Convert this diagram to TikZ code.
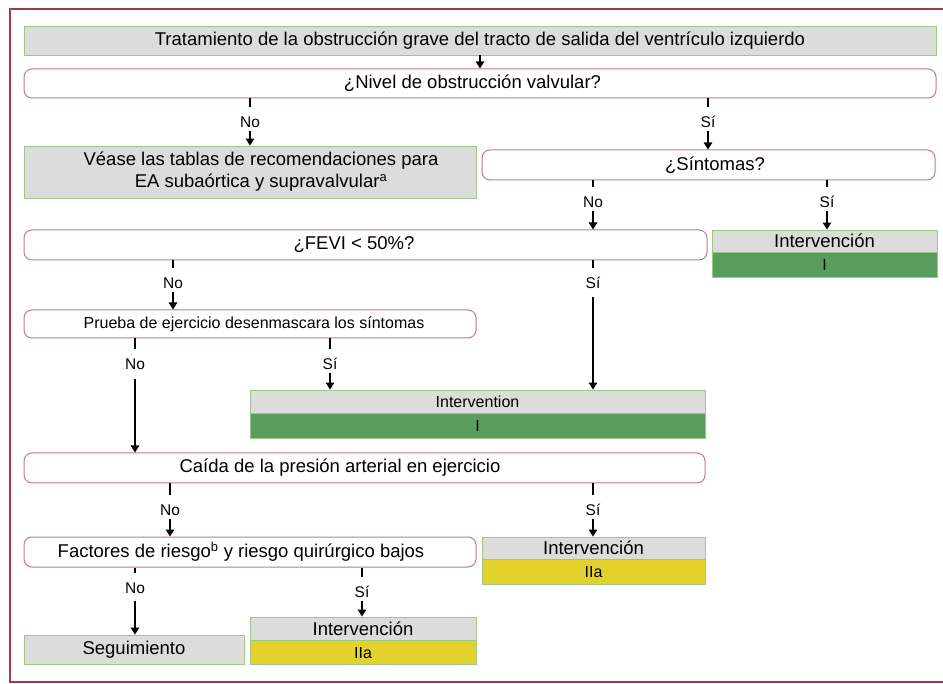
\documentclass[tikz,border=0pt]{standalone}
\usepackage{fontspec}
\setmainfont{Liberation Sans}
\usetikzlibrary{arrows.meta}
\definecolor{boxgray}{HTML}{DCDCDC}
\definecolor{boxgreen}{HTML}{9CC68A}
\definecolor{roundred}{HTML}{C27A84}
\definecolor{framered}{HTML}{9C3B4B}
\definecolor{fillgreen}{HTML}{5A9E5E}
\definecolor{fillyellow}{HTML}{E3D22B}
\tikzset{
  graybox/.style={draw=boxgreen, fill=boxgray, line width=0.9pt, inner sep=0pt, align=center, font=\fontsize{18.5}{22}\selectfont},
  qbox/.style={draw=roundred, fill=white, line width=1pt, rounded corners=8pt, inner sep=0pt, align=center, font=\fontsize{18.5}{22}\selectfont},
  gfill/.style={draw=boxgreen, fill=fillgreen, line width=0.9pt, inner sep=0pt, font=\fontsize{16}{18}\selectfont},
  yfill/.style={draw=boxgreen, fill=fillyellow, line width=0.9pt, inner sep=0pt, font=\fontsize{16}{18}\selectfont},
  lbl/.style={inner sep=3pt, font=\fontsize{15.5}{17}\selectfont},
  tick/.style={line width=1.2pt, shorten >=6pt},
  arr/.style={line width=1.2pt, -{Triangle[length=7pt,width=8.5pt]}}
}
\begin{document}
\begin{tikzpicture}[x=1pt,y=-1pt]
\useasboundingbox (0,0) rectangle (943,684);
% frame
\draw[framered, line width=1.2pt] (10,9) rectangle (970,682);

% boxes
\node[graybox, minimum width=912pt, minimum height=29pt] (title) at (480,40.5) {Tratamiento de la obstrucción grave del tracto de salida del ventrículo izquierdo};
\node[qbox, minimum width=912pt, minimum height=29pt] (nivel) at (480,83.5) {\hspace*{-15pt}¿Nivel de obstrucción valvular?};
\node[graybox, minimum width=452pt, minimum height=52pt] (vease) at (250,172) {\hspace*{22pt}Véase las tablas de recomendaciones para\\\hspace*{22pt}EA subaórtica y supravalvular\textsuperscript{a}};
\node[qbox, minimum width=453pt, minimum height=30pt] (sint) at (708.5,165) {\hspace*{13pt}¿Síntomas?};
\node[qbox, minimum width=683pt, minimum height=30pt] (fevi) at (365.5,245) {\hspace*{-23pt}¿FEVI < 50\%?};
\node[graybox, minimum width=225pt, minimum height=22pt] (intA) at (824.5,241) {Intervención};
\node[gfill, minimum width=225pt, minimum height=25pt, anchor=north] (intAc) at (intA.south) {I};
\node[qbox, minimum width=452pt, minimum height=28pt, font=\fontsize{16}{18}\selectfont] (prueba) at (250,324) {\hspace*{8pt}Prueba de ejercicio desenmascara los síntomas};
\node[graybox, minimum width=455pt, minimum height=23pt, font=\fontsize{16}{18}\selectfont] (intB) at (477.5,401.5) {Intervention};
\node[gfill, minimum width=455pt, minimum height=25pt, anchor=north] (intBc) at (intB.south) {I};
\node[qbox, minimum width=681pt, minimum height=30pt] (caida) at (364.5,468) {\hspace*{-49pt}Caída de la presión arterial en ejercicio};
\node[qbox, minimum width=452pt, minimum height=30pt] (fact) at (250,552) {\hspace*{-18pt}Factores de riesgo\textsuperscript{b} y riesgo quirúrgico bajos};
\node[graybox, minimum width=223pt, minimum height=22pt] (intC) at (593.5,548) {Intervención};
\node[yfill, minimum width=223pt, minimum height=25pt, anchor=north] (intCc) at (intC.south) {IIa};
\node[graybox, minimum width=220pt, minimum height=29pt] (seg) at (134,649.5) {Seguimiento};
\node[graybox, minimum width=226pt, minimum height=23pt] (intD) at (363,628.5) {Intervención};
\node[yfill, minimum width=226pt, minimum height=24pt, anchor=north] (intDc) at (intD.south) {IIa};

% title -> nivel
\draw[arr] (title.south) -- (nivel.north);

% labels
\node[lbl] (l1) at (250,122) {No};
\node[lbl] (l2) at (708,122) {Sí};
\node[lbl] (l3) at (593,202) {No};
\node[lbl] (l4) at (827,202) {Sí};
\node[lbl] (l5) at (173,283) {No};
\node[lbl] (l6) at (593,283) {Sí};
\node[lbl] (l7) at (135,364) {No};
\node[lbl] (l8) at (330,364) {Sí};
\node[lbl] (l9) at (170,510) {No};
\node[lbl] (l10) at (593,510) {Sí};
\node[lbl] (l11) at (135,588) {No};
\node[lbl] (l12) at (362,592) {Sí};

% connectors
\draw[tick] (nivel.south -| l1) -- (l1.north);
\draw[arr] (l1.south) -- (vease.north -| l1);
\draw[tick] (nivel.south -| l2) -- (l2.north);
\draw[arr] (l2.south) -- (sint.north -| l2);
\draw[tick] (sint.south -| l3) -- (l3.north);
\draw[arr] (l3.south) -- (fevi.north -| l3);
\draw[tick] (sint.south -| l4) -- (l4.north);
\draw[arr] (l4.south) -- (intA.north -| l4);
\draw[tick] (fevi.south -| l5) -- (l5.north);
\draw[arr] (l5.south) -- (prueba.north -| l5);
\draw[tick] (fevi.south -| l6) -- (l6.north);
\draw[arr] ([yshift=-5pt]l6.south) -- (intB.north -| l6);
\draw[tick] (prueba.south -| l7) -- (l7.north);
\draw[arr] ([yshift=-6pt]l7.south) -- (caida.north -| l7);
\draw[tick] (prueba.south -| l8) -- (l8.north);
\draw[arr] (l8.south) -- (intB.north -| l8);
\draw[tick] (caida.south -| l9) -- (l9.north);
\draw[arr] (l9.south) -- (fact.north -| l9);
\draw[tick] (caida.south -| l10) -- (l10.north);
\draw[arr] (l10.south) -- (intC.north -| l10);
\draw[tick] (fact.south -| l11) -- (l11.north);
\draw[arr] ([yshift=-4pt]l11.south) -- (seg.north -| l11);
\draw[tick] (fact.south -| l12) -- (l12.north);
\draw[arr] (l12.south) -- (intD.north -| l12);
\end{tikzpicture}
\end{document}
